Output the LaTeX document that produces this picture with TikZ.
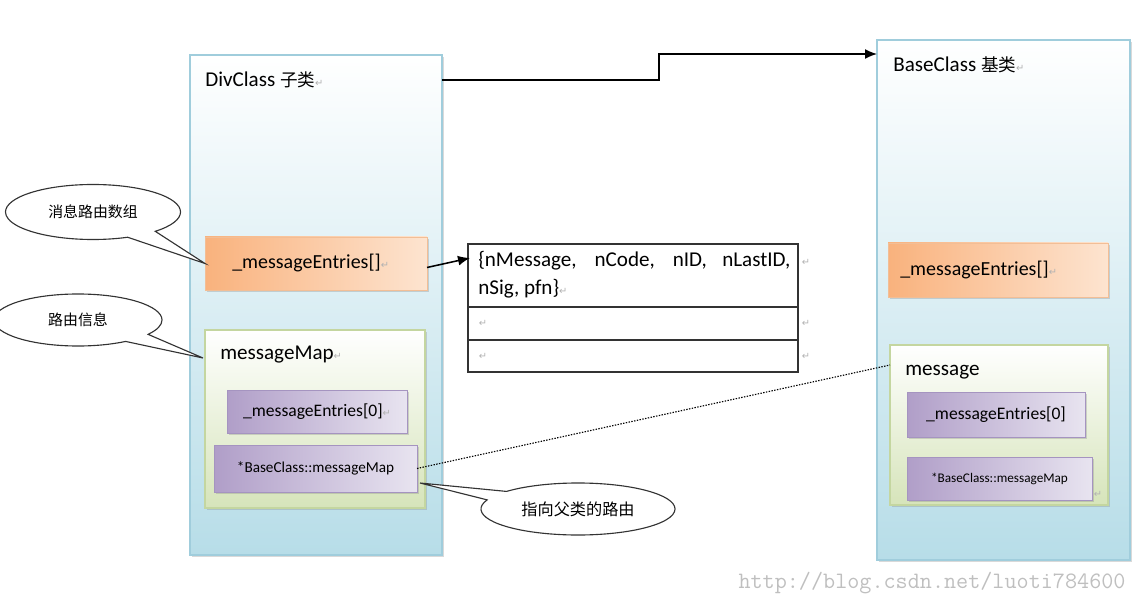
\documentclass[tikz,border=0pt]{standalone}
\usepackage{fontspec}
\setmainfont{Carlito}
\newfontfamily\cjk{Noto Sans CJK SC}
\newfontfamily\symfont{DejaVu Sans}
\usetikzlibrary{positioning,calc,shadows,shapes.callouts,arrows.meta}

\definecolor{clsfill}{RGB}{183,221,232}
\definecolor{clsline}{RGB}{160,205,220}
\definecolor{orgdark}{RGB}{249,178,125}
\definecolor{orglight}{RGB}{253,228,208}
\definecolor{orgline}{RGB}{242,190,150}
\definecolor{grnfill}{RGB}{214,228,186}
\definecolor{grnline}{RGB}{196,214,160}
\definecolor{purdark}{RGB}{176,158,200}
\definecolor{purlight}{RGB}{232,228,240}
\definecolor{purline}{RGB}{165,148,192}

\newcommand\px{0.025cm}
\newcommand\retmark{{\symfont\fontsize{7}{7}\selectfont\color{gray!60}↵}}

\begin{document}
\begin{tikzpicture}[x=0.025cm,y=-0.025cm,
  boxsize/.style 2 args={minimum width=#1*\px, minimum height=#2*\px},
  shadowed/.style={drop shadow={opacity=0.3, shadow xshift=0.06cm, shadow yshift=-0.06cm}},
  classbox/.style={draw=clsline, line width=1.2pt, top color=white, middle color=clsfill!30, bottom color=clsfill, inner sep=0, outer sep=0, shadowed},
  entrybox/.style={draw=orgline, line width=0.6pt, left color=orgdark, right color=orglight, inner sep=0, outer sep=0, shadowed},
  mapbox/.style={draw=grnline, line width=1pt, top color=white, bottom color=grnfill, inner sep=0, outer sep=0, shadowed},
  itembox/.style={draw=purline, line width=0.6pt, left color=purdark, right color=purlight, inner sep=0, outer sep=0, shadowed},
  cell/.style={draw=black!80, line width=0.8pt, inner sep=0, outer sep=0},
  lbl/.style={inner sep=0, font=\fontsize{15}{18}\selectfont},
  note/.style={ellipse callout, draw=black!80, line width=0.8pt, fill=white, inner sep=0, callout pointer arc=22, font=\cjk\fontsize{10.6}{12}\selectfont},
  link/.style={line width=1.1pt, -{Latex[length=0.3cm,width=0.25cm]}}
]
\useasboundingbox (0,0) rectangle (1141,596);

\node[classbox, boxsize={252}{500}] (div) at (316,305) {};
\node[classbox, boxsize={253}{520}] (base) at (1003.5,300) {};

\node[lbl, anchor=west] (divtitle) at ($(div.north west)+(15,25)$) {DivClass {\cjk\fontsize{12.5}{12.5}\selectfont 子类}\retmark};
\node[lbl, anchor=west] (basetitle) at ($(base.north west)+(16,25)$) {BaseClass {\cjk\fontsize{12.5}{12.5}\selectfont 基类}\retmark};

\node[entrybox, boxsize={222}{53}] (eo) at (316,263.5) {};
\node[lbl, right=0.675cm of eo.west, font=\fontsize{14.2}{17}\selectfont] (eotext) {\_messageEntries[]\retmark};
\node[entrybox, boxsize={220}{54}] (er) at (998,270) {};
\node[lbl, right=0.3cm of er.west, font=\fontsize{14.2}{17}\selectfont] (ertext) {\_messageEntries[]\retmark};

\node[mapbox, boxsize={220}{178}] (gm) at (315,419) {};
\node[lbl, anchor=west] (gmtext) at ($(gm.north west)+(15,25)$) {messageMap\retmark};
\node[itembox, boxsize={180}{43}] (p1) at (317,411.5) {\fontsize{12.5}{14}\selectfont\_messageEntries[0]\retmark};
\node[itembox, boxsize={203}{47}] (p2) at (315.5,468.5) {\fontsize{10.8}{12}\selectfont *BaseClass::messageMap};

\node[mapbox, boxsize={218}{160}] (gr) at (999,425) {};
\node[lbl, anchor=west] (grtext) at ($(gr.north west)+(15,27)$) {message};
\node[itembox, boxsize={178}{45}] (q1) at (996,414.5) {\fontsize{12.5}{14}\selectfont\_messageEntries[0]};
\node[itembox, boxsize={185}{43}] (q2) at (999.5,478.5) {\fontsize{9.4}{11}\selectfont *BaseClass::messageMap\hspace{0.3cm}};
\node[inner sep=0] (q2ret) at ($(q2.south east)+(6,-6)$) {\retmark};

\node[cell, boxsize={330}{63}] (row1) at (633,275.5) {};
\node[cell, boxsize={330}{33}, below=0pt of row1] (row2) {};
\node[cell, boxsize={330}{32}, below=0pt of row2] (row3) {};
\node[inner sep=0, anchor=north west, text width=7.8cm, align=justify, font=\fontsize{15}{20}\selectfont] (fields) at ($(row1.north west)+(10,7)$) {\{nMessage, nCode, nID, nLastID,\linebreak nSig, pfn\}\retmark};
\node[inner sep=0] (r1ret) at ($(row1.north east)+(8,18)$) {\retmark};
\node[inner sep=0] (r2ret) at ($(row2.east)+(8,0)$) {\retmark};
\node[inner sep=0] (r2left) at ($(row2.west)+(15,0)$) {\retmark};
\node[inner sep=0] (r3ret) at ($(row3.east)+(8,0)$) {\retmark};
\node[inner sep=0] (r3left) at ($(row3.west)+(15,0)$) {\retmark};

\coordinate (bend) at (659,54);
\draw[link] (divtitle -| div.east) -| (bend) -- (bend -| base.west);
\draw[link] ($(eo.east)+(0,4)$) -- ($(row1.north west)+(2,14)$);
\draw[line width=0.8pt, dash pattern=on 1pt off 1pt] (p2.east) -- ($(gr.north west)+(0,20)$);

\node[note, minimum width=4.375cm, minimum height=1.375cm, callout absolute pointer={(eo.west)}] (note1) at (93,212) {消息路由数组};
\node[note, minimum width=4.2cm, minimum height=1.3cm, callout absolute pointer={($(gm.north west)+(-2,28)$)}] (note2) at (78,320) {路由信息};
\node[note, minimum width=4.85cm, minimum height=1.3cm, font=\cjk\fontsize{11.5}{13}\selectfont, callout absolute pointer={($(p2.south east)+(3,-9)$)}] (note3) at (578,509) {指向父类的路由};

\node[inner sep=0, text=gray!50, font=\ttfamily\fontsize{16.7}{18}\selectfont] (url) at (932,583) {http://blog.csdn.net/luoti784600};
\end{tikzpicture}
\end{document}
